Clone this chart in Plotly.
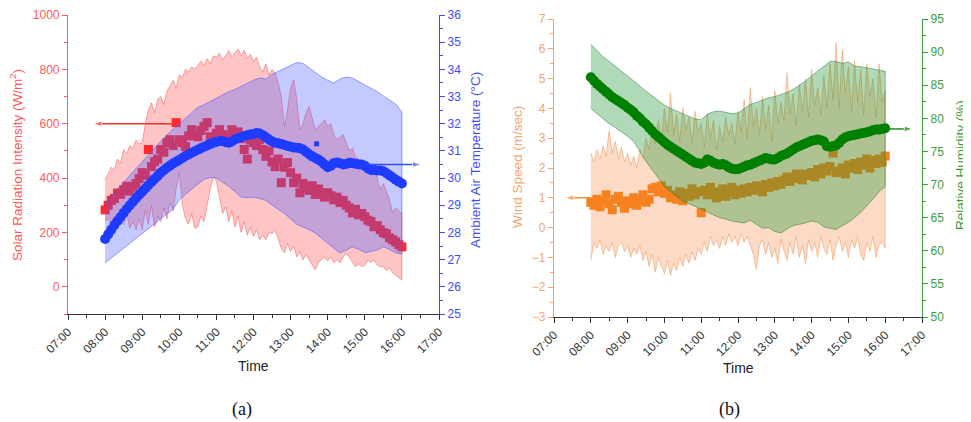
import plotly.graph_objects as go

# ---------------- time grids (hours) ----------------
t5 = [8 + i / 12 for i in range(97)]    # 08:00 .. 16:00 every 5 min
t10 = [8 + i / 6 for i in range(49)]    # 08:00 .. 16:00 every 10 min

hour_ticks = [7, 8, 9, 10, 11, 12, 13, 14, 15, 16, 17]
hour_labels = ["07:00", "08:00", "09:00", "10:00", "11:00", "12:00",
               "13:00", "14:00", "15:00", "16:00", "17:00"]

# ---------------- panel (a) data ----------------
solar_mean = [283, 300, 318, 325, 345, 340, 357, 370, 352, 368, 380, 398,
              420, 410, 505, 442, 460, 470, 505, 495, 530, 541, 520, 604,
              541, 530, 516, 555, 578, 560, 552, 575, 590, 604, 552, 540,
              565, 578, 560, 541, 550, 578, 565, 570, 545, 505, 470, 540,
              530, 520, 541, 505, 480, 500, 460, 442, 470, 383, 440, 457,
              420, 383, 400, 346, 380, 368, 355, 372, 340, 360, 346, 330,
              346, 335, 320, 330, 310, 318, 300, 290, 272, 285, 265, 270,
              258, 245, 240, 221, 225, 210, 199, 195, 180, 173, 165, 155,
              147]
solar_hi = [394, 420, 440, 430, 470, 455, 505, 490, 520, 510, 540, 525,
            530, 600, 650, 677, 640, 690, 700, 670, 720, 740, 760, 730,
            780, 770, 800, 790, 810, 800, 817, 830, 815, 840, 820, 850,
            845, 860, 835, 850, 870, 845, 860, 875, 850, 870, 840, 855,
            830, 845, 810, 790, 820, 780, 800, 788, 750, 700, 589, 650,
            730, 762, 690, 578, 600, 640, 663, 620, 578, 590, 600, 615,
            590, 600, 560, 541, 550, 560, 530, 500, 510, 480, 470, 460,
            457, 450, 445, 442, 400, 357, 380, 350, 320, 272, 290, 280,
            272]
solar_lo = [240, 250, 232, 260, 228, 245, 228, 270, 215, 240, 210, 250,
            210, 280, 230, 300, 220, 260, 240, 290, 250, 310, 280, 360,
            420, 300, 250, 230, 270, 215, 220, 260, 240, 300, 360, 405,
            390, 330, 270, 295, 240, 280, 220, 260, 200, 240, 190, 220,
            185, 210, 173, 190, 173, 200, 195, 210, 180, 140, 125, 160,
            130, 150, 110, 130, 99, 120, 99, 80, 63, 90, 100, 110,
            95, 110, 88, 100, 88, 110, 125, 110, 90, 74, 85, 74,
            80, 99, 90, 99, 80, 74, 74, 60, 70, 51, 45, 35,
            26]
temp_mean = [27.76, 27.93, 28.1, 28.27, 28.42, 28.57, 28.72, 28.86, 29.0,
             29.13, 29.26, 29.38, 29.5, 29.62, 29.74, 29.86, 29.97, 30.08,
             30.2, 30.29, 30.38, 30.46, 30.54, 30.6, 30.67, 30.74, 30.81,
             30.87, 30.93, 30.99, 31.04, 31.1, 31.15, 31.2, 31.25, 31.3,
             31.33, 31.36, 31.36, 31.32, 31.3, 31.35, 31.42, 31.47, 31.5,
             31.55, 31.58, 31.6, 31.62, 31.66, 31.64, 31.58, 31.5, 31.42,
             31.35, 31.3, 31.28, 31.25, 31.22, 31.18, 31.15, 31.13, 31.12,
             31.1, 31.05, 30.97, 30.88, 30.8, 30.74, 30.68, 30.6, 30.5,
             30.4, 30.45, 30.55, 30.57, 30.55, 30.5, 30.52, 30.56, 30.55,
             30.53, 30.5, 30.5, 30.45, 30.35, 30.3, 30.3, 30.28, 30.28,
             30.25, 30.18, 30.1, 30.02, 29.94, 29.87, 29.8]
temp_hi = [29.09, 29.35, 29.6, 29.85, 30.1, 30.35, 30.6, 30.85, 31.1, 31.35,
           31.59, 31.8, 32.0, 32.2, 32.4, 32.6, 32.7, 32.82, 32.95, 33.05,
           33.18, 33.26, 33.38, 33.5, 33.6, 33.68, 33.65, 33.82, 33.92, 34.02,
           34.12, 34.25, 34.22, 34.05, 33.88, 33.72, 33.6, 33.5, 33.65, 33.72,
           33.68, 33.55, 33.45, 33.3, 33.18, 33.02, 32.88, 32.72, 32.43]
temp_lo = [26.88, 27.05, 27.22, 27.4, 27.58, 27.77, 27.95, 28.13, 28.32, 28.5,
           28.68, 28.85, 29.2, 29.4, 29.6, 29.78, 29.95, 30.02, 30.0, 29.85,
           29.7, 29.5, 29.3, 29.28, 29.3, 29.25, 29.18, 29.0, 28.85, 28.7,
           28.5, 28.3, 28.2, 28.1, 27.98, 27.8, 27.6, 27.42, 27.25, 27.35,
           27.47, 27.38, 27.25, 27.3, 27.35, 27.47, 27.38, 27.25, 27.2]
temp_outlier_time = [13.7]
temp_outlier = [31.26]

# ---------------- panel (b) data ----------------
wind_mean = [0.85, 0.75, 0.95, 0.7, 0.9, 1.1, 0.8, 0.6, 0.95, 1.05, 0.85, 0.65,
             0.9, 0.8, 1.0, 0.75, 0.9, 1.1, 0.85, 0.95, 1.3, 1.35, 1.2, 1.4,
             1.15, 1.25, 1.0, 1.1, 0.95, 1.2, 0.9, 1.15, 1.05, 1.3, 1.1, 1.2,
             0.5, 1.25, 1.1, 1.35, 1.15, 1.0, 1.2, 1.3, 1.05, 1.2, 1.35, 1.1,
             1.25, 1.15, 1.3, 1.2, 1.35, 1.25, 1.4, 1.3, 1.2, 1.45, 1.35, 1.5,
             1.4, 1.55, 1.45, 1.6, 1.7, 1.55, 1.65, 1.8, 1.7, 1.6, 1.8, 1.75,
             1.85, 1.7, 1.95, 1.8, 2.0, 1.9, 2.05, 2.5, 1.85, 1.9, 2.0, 1.8,
             2.1, 2.0, 2.15, 1.95, 2.2, 2.1, 2.3, 2.0, 2.25, 2.15, 2.3, 2.2,
             2.4]
wind_hi = [2.5, 2.2, 2.6, 2.3, 2.75, 2.4, 3.26, 2.5, 2.9, 2.3, 2.7, 2.2,
           2.5, 2.1, 2.4, 2.0, 2.6, 2.3, 3.0, 2.6, 3.4, 2.8, 3.6, 3.0,
           4.0, 3.2, 4.5, 3.1, 3.8, 2.9, 4.0, 3.3, 3.7, 2.8, 3.9, 3.2,
           3.5, 2.7, 3.8, 3.0, 3.6, 2.6, 3.4, 2.9, 3.7, 3.1, 3.5, 2.8,
           3.9, 3.2, 4.3, 3.0, 4.7, 3.4, 4.0, 3.1, 4.4, 3.3, 4.1, 2.9,
           4.6, 3.5, 4.2, 3.6, 5.2, 3.8, 4.5, 3.4, 4.8, 3.9, 5.0, 3.7,
           5.3, 4.1, 4.7, 3.8, 5.1, 4.0, 5.5, 4.3, 6.2, 4.0, 5.95, 4.5,
           5.4, 3.9, 5.6, 4.2, 5.3, 3.8, 5.5, 4.4, 5.0, 3.7, 5.5, 4.2,
           4.6]
wind_lo = [-1.1, -0.5, -0.7, -0.4, -0.9, -0.6, -0.8, -0.5, -1.0, -0.6, -0.5, -0.8,
           -0.6, -1.0, -0.7, -0.9, -0.6, -1.1, -0.8, -1.3, -0.9, -1.5, -1.0, -1.3,
           -1.55, -1.1, -1.6, -1.2, -1.45, -1.0, -1.3, -0.9, -1.2, -0.8, -1.1, -0.7,
           -0.9, -0.5, -0.8, -0.3, -0.6, -0.4, -0.7, -0.3, -0.6, -0.2, -0.5, -0.3,
           -0.6, -0.2, -0.5, -0.3, -0.6, -0.9, -1.4, -0.6, -0.4, -0.9, -0.5, -1.0,
           -0.7, -1.2, -0.4, -0.8, -1.1, -0.5, -0.9, -0.3, -1.0, -0.6, -1.2, -0.4,
           -0.8, -0.5, -1.0, -0.3, -0.7, -0.9, -0.4, -1.1, -0.6, -0.3, -0.8, -0.5,
           -1.0, -0.4, -0.7, -0.3, -0.9, -1.1, -0.5, -0.8, -0.3, -1.0, -0.6, -0.5,
           -0.7]
rh_mean = [86.2, 85.7, 85.2, 84.8, 84.4, 84.0, 83.6, 83.2, 82.9, 82.6, 82.3, 82.0,
           81.6, 81.3, 80.9, 80.4, 80.0, 79.5, 79.1, 78.6, 78.1, 77.6, 77.2, 76.8,
           76.4, 76.0, 75.7, 75.4, 75.1, 74.8, 74.5, 74.2, 73.9, 73.6, 73.3, 73.2,
           73.1, 73.3, 73.8, 73.6, 73.3, 73.1, 73.0, 73.1, 72.9, 72.6, 72.4, 72.3,
           72.3, 72.5, 72.7, 72.9, 73.0, 73.2, 73.4, 73.6, 73.8, 74.0, 73.9, 73.8,
           73.8, 74.0, 74.3, 74.5, 74.7, 75.0, 75.3, 75.6, 75.8, 76.0, 76.2, 76.4,
           76.6, 76.7, 76.8, 76.7, 76.5, 75.8, 75.7, 75.8, 75.9, 76.3, 76.8, 77.1,
           77.3, 77.4, 77.5, 77.6, 77.7, 77.8, 77.9, 78.0, 78.2, 78.3, 78.3, 78.4,
           78.5]
rh_hi = [91.2, 90.2, 89.3, 88.6, 87.8, 87.1, 86.4, 85.6, 84.9, 84.1,
         83.4, 82.7, 82.0, 81.5, 81.1, 80.7, 80.3, 79.9, 79.8, 80.6,
         81.0, 81.1, 80.9, 80.7, 80.8, 81.5, 82.1, 82.4, 82.8, 83.1,
         83.3, 83.6, 83.9, 84.4, 85.0, 85.6, 86.4, 87.1, 87.9, 88.6,
         88.6, 88.3, 88.5, 87.9, 87.8, 87.6, 87.4, 87.3, 87.1]
rh_lo = [81.5, 80.7, 79.9, 79.2, 78.6, 78.0, 77.3, 76.5, 75.0, 73.5,
         72.2, 71.0, 69.7, 69.0, 68.2, 67.5, 67.1, 66.7, 66.3, 65.9,
         65.4, 65.0, 64.8, 64.5, 64.3, 64.2, 64.6, 64.0, 63.4, 63.5,
         62.9, 62.7, 63.3, 63.8, 64.0, 64.2, 64.5, 64.3, 63.6, 63.4,
         63.2, 63.8, 64.3, 65.0, 65.8, 66.8, 67.8, 68.9, 69.7]

# axis-pointer arrows: [tail_time, head_time] at a given value
arrow_solar_t, arrow_solar_v = [9.87, 7.68], 600
arrow_temp_t, arrow_temp_v = [15.05, 16.52], 30.5
arrow_wind_t, arrow_wind_v = [8.0, 7.3], 1.0
arrow_rh_t, arrow_rh_v = [16.0, 16.75], 78.4

FONT = "Arial, Liberation Sans, sans-serif"
RED, BLUE, ORANGE, GREEN = "#FF5A5A", "#3A4EFF", "#F4A46C", "#3C9E3C"

# page has an 8px body margin: figure is drawn at (8, 8) in the window
OFF = 8
W, H = 971 - OFF, 422 - OFF


def px(xw):
    return (xw - OFF) / W


def py(yw):
    return 1 - (yw - OFF) / H


def band(t, hi, lo, fill, line, xa, ya):
    return go.Scatter(x=list(t) + list(t)[::-1], y=list(hi) + list(lo)[::-1],
                      fill="toself", fillcolor=fill, mode="lines",
                      line=dict(color=line, width=0.8), xaxis=xa, yaxis=ya,
                      hoverinfo="skip", showlegend=False)


def arrow(t, v, color, xa, ya):
    return go.Scatter(x=t, y=[v, v], mode="lines+markers", xaxis=xa, yaxis=ya,
                      line=dict(color=color, width=1.3),
                      marker=dict(symbol="arrow", size=[0, 9], angleref="previous", color=color),
                      hoverinfo="skip", showlegend=False)


fig = go.Figure()
# panel (a)
fig.add_trace(band(t5, solar_hi, solar_lo, "rgba(255,60,60,0.30)", "rgba(255,60,60,0.55)", "x", "y"))
fig.add_trace(go.Scatter(x=t5, y=solar_mean, mode="markers", xaxis="x", yaxis="y",
                         marker=dict(symbol="square", size=9, color="#FF2A2A"), showlegend=False))
fig.add_trace(arrow(arrow_solar_t, arrow_solar_v, "#FF3030", "x", "y"))
fig.add_trace(band(t10, temp_hi, temp_lo, "rgba(70,90,255,0.32)", "rgba(70,90,255,0.7)", "x", "y2"))
fig.add_trace(go.Scatter(x=t5, y=temp_mean, mode="markers", xaxis="x", yaxis="y2",
                         marker=dict(symbol="circle", size=10, color="#1E3CFF"), showlegend=False))
fig.add_trace(go.Scatter(x=temp_outlier_time, y=temp_outlier, mode="markers", xaxis="x", yaxis="y2",
                         marker=dict(symbol="square", size=5, color="#1E3CFF"), showlegend=False))
fig.add_trace(arrow(arrow_temp_t, arrow_temp_v, "#3050FF", "x", "y2"))
# panel (b)
fig.add_trace(band(t5, wind_hi, wind_lo, "rgba(250,150,90,0.35)", "rgba(240,140,70,0.6)", "x2", "y3"))
fig.add_trace(go.Scatter(x=t5, y=wind_mean, mode="markers", xaxis="x2", yaxis="y3",
                         marker=dict(symbol="square", size=9, color="#F5821F"), showlegend=False))
fig.add_trace(arrow(arrow_wind_t, arrow_wind_v, "#F5821F", "x2", "y3"))
fig.add_trace(band(t10, rh_hi, rh_lo, "rgba(30,150,50,0.35)", "rgba(30,120,40,0.6)", "x2", "y4"))
fig.add_trace(go.Scatter(x=t5, y=rh_mean, mode="markers", xaxis="x2", yaxis="y4",
                         marker=dict(symbol="circle", size=10, color="#008000"), showlegend=False))
fig.add_trace(arrow(arrow_rh_t, arrow_rh_v, "#008000", "x2", "y4"))

XA_DOM = [px(68), px(439)]
YA_DOM = [py(314), py(15)]
XB_DOM = [px(554), px(922)]
YB_DOM = [py(317), py(19)]


def xaxis(domain, anchor):
    return dict(domain=domain, anchor=anchor, range=[7, 17], tickmode="array",
                tickvals=hour_ticks, ticktext=hour_labels, tickangle=-45,
                ticks="outside", ticklen=5, tickcolor="#333", showline=True,
                linecolor="#333", linewidth=1.2, showgrid=False, zeroline=False,
                automargin=False,
                tickfont=dict(family=FONT, size=12, color="#333"),
                minor=dict(dtick=0.5, tick0=7, ticks="outside", ticklen=3, tickcolor="#333"))


def topaxis(over):
    return dict(overlaying=over, side="top", range=[7, 17], tickmode="array",
                tickvals=hour_ticks, ticks="inside", ticklen=5, tickcolor="#333",
                showticklabels=False, showline=True, linecolor="#333", linewidth=1.2,
                showgrid=False, zeroline=False, automargin=False,
                minor=dict(dtick=0.5, tick0=7, ticks="inside", ticklen=3, tickcolor="#333"))


def yaxis(domain, anchor, rng, dtick, minor, color, side="left", over=None):
    d = dict(domain=domain, anchor=anchor, range=rng, dtick=dtick, tick0=0,
             ticks="outside", ticklen=5, tickcolor=color, showline=True,
             linecolor=color, linewidth=1.2, showgrid=False, zeroline=False,
             side=side, automargin=False,
             tickfont=dict(family=FONT, size=12, color=color),
             minor=dict(dtick=minor, ticks="outside", ticklen=3, tickcolor=color))
    if over:
        d["overlaying"] = over
    return d


fig.update_layout(
    width=W, height=H, autosize=False,
    margin=dict(l=0, r=0, t=0, b=0),
    paper_bgcolor="white", plot_bgcolor="white",
    showlegend=False, hovermode=False,
    xaxis=xaxis(XA_DOM, "y"),
    xaxis2=xaxis(XB_DOM, "y3"),
    xaxis3=dict(topaxis("x"), anchor="y"),
    xaxis4=dict(topaxis("x2"), anchor="y3"),
    yaxis=yaxis(YA_DOM, "x", [-100, 1000], 200, 100, RED),
    yaxis2=yaxis(YA_DOM, "x", [25, 36], 1, 0.5, BLUE, side="right", over="y"),
    yaxis3=yaxis(YB_DOM, "x2", [-3, 7], 1, 0.5, ORANGE),
    yaxis4=yaxis(YB_DOM, "x2", [50, 95], 5, 2.5, GREEN, side="right", over="y3"),
)

ann = []
# axis titles
ann.append(dict(text="Solar Radiation Intensity (W/m<sup>2</sup>)", x=px(16), y=py(165),
                textangle=-90, font=dict(family=FONT, size=13.5, color=RED)))
ann.append(dict(text="Ambient Air Temperature (°C)", x=px(475), y=py(160),
                textangle=-90, font=dict(family=FONT, size=13.5, color=BLUE)))
ann.append(dict(text="Wind Speed (m/sec)", x=px(518), y=py(167),
                textangle=-90, font=dict(family=FONT, size=13.5, color=ORANGE)))
ann.append(dict(text="Relative Humidity (%)", x=px(960), y=py(165),
                textangle=-90, font=dict(family=FONT, size=13.5, color=GREEN)))
ann.append(dict(text="Time", x=px(254), y=py(366), font=dict(family=FONT, size=14, color="#222")))
ann.append(dict(text="Time", x=px(738), y=py(368), font=dict(family=FONT, size=14, color="#222")))
ann.append(dict(text="(a)", x=px(242), y=py(409),
                font=dict(family="Liberation Serif, Times New Roman, serif", size=18, color="#111")))
ann.append(dict(text="(b)", x=px(729), y=py(409),
                font=dict(family="Liberation Serif, Times New Roman, serif", size=18, color="#111")))
for a in ann:
    a.update(xref="paper", yref="paper", showarrow=False, xanchor="center", yanchor="middle")

fig.update_layout(annotations=ann)
fig.write_html("out.html")
